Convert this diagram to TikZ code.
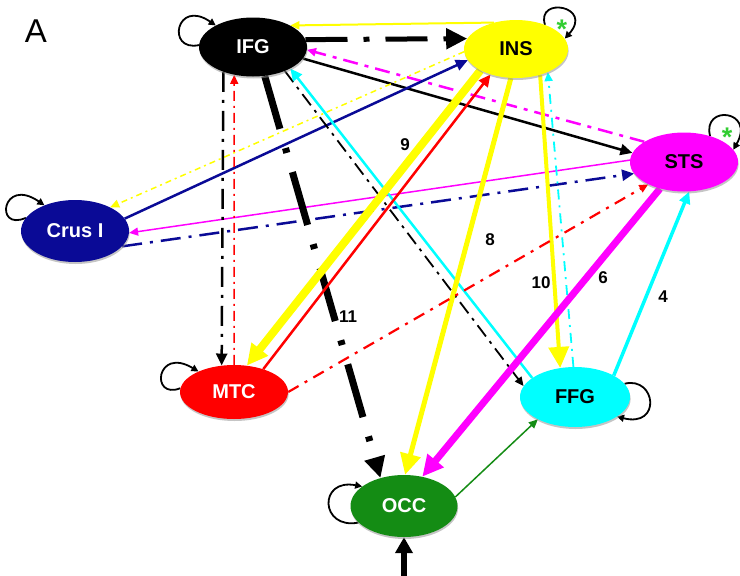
\documentclass[tikz,border=0pt]{standalone}
\usepackage{fontspec}
\setmainfont{Liberation Sans}
\usetikzlibrary{arrows.meta,shapes.geometric,shadows}
\definecolor{cyel}{RGB}{255,255,0}
\definecolor{cmag}{RGB}{255,0,255}
\definecolor{cnavy}{RGB}{10,10,150}
\definecolor{cred}{RGB}{255,0,0}
\definecolor{ccyan}{RGB}{0,255,255}
\definecolor{cgreen}{RGB}{20,140,20}
\definecolor{cstar}{RGB}{50,205,50}
\pgfdeclarelayer{background}
\pgfdeclarelayer{edges}
\pgfsetlayers{background,edges,main}
\tikzset{
  region/.style={ellipse, inner sep=0pt, font=\fontsize{20}{24}\selectfont\bfseries,
    drop shadow={shadow xshift=0.6pt, shadow yshift=-2pt, fill=black!45, opacity=0.5}},
  tipS/.style={-{Triangle[length=9pt,width=8pt]}},
  tipM/.style={-{Triangle[length=12pt,width=11pt]}},
  tipL/.style={-{Triangle[length=21pt,width=20pt]}},
  selfloop/.style={draw=black, line width=1.8pt, -{Triangle[length=7pt,width=7pt]}},
  numlabel/.style={font=\fontsize{17}{20}\selectfont\bfseries, inner sep=0pt},
  starlabel/.style={font=\fontsize{27}{29}\selectfont\bfseries, text=cstar, inner sep=0pt, anchor=base},
}
\begin{document}
\begin{tikzpicture}[x=1pt,y=-1pt]
\useasboundingbox (0,0) rectangle (740,576);
\begin{pgfonlayer}{background}
\fill[white] (0,0) rectangle (740,576);
\end{pgfonlayer}

\node[inner sep=0pt, font=\fontsize{33}{36}\selectfont] (lblA) at (36,31) {A};

\node[region, fill=black, text=white, minimum width=108pt, minimum height=59pt] (IFG) at (253,47) {IFG};
\node[region, fill=cyel, text=black, minimum width=104pt, minimum height=58pt] (INS) at (516,49) {INS};
\node[region, fill=cmag, text=black, minimum width=108pt, minimum height=59pt] (STS) at (684,162) {STS};
\node[region, fill=cnavy, text=white, minimum width=108pt, minimum height=62pt] (CRU) at (75,231) {Crus I};
\node[region, fill=cred, text=white, minimum width=108pt, minimum height=54pt] (MTC) at (234,392) {MTC};
\node[region, fill=ccyan, text=black, minimum width=110pt, minimum height=60pt] (FFG) at (575,397) {FFG};
\node[region, fill=cgreen, text=white, minimum width=107pt, minimum height=62pt] (OCC) at (404,506) {OCC};
\coordinate (input) at (404,580);

\begin{pgfonlayer}{edges}
% self loops
\draw[selfloop] (IFG.178) .. controls (166,52) and (176,-2) .. (IFG.150);
\draw[selfloop] (INS.40) .. controls (536,-4) and (594,6) .. (INS.12);
\draw[selfloop] (STS.45) .. controls (702,104) and (756,110) .. (STS.14);
\draw[selfloop] (CRU.165) .. controls (-6,232) and (2,176) .. (CRU.140);
\draw[selfloop] (MTC.176) .. controls (150,400) and (156,346) .. (MTC.150);
\draw[selfloop] (FFG.15) .. controls (656,376) and (662,428) .. (FFG.-25);
\draw[selfloop] (OCC.200) .. controls (320,530) and (318,478) .. (OCC.155);

% IFG <-> INS
\draw[cyel, line width=2pt, tipS] (INS.130) -- (IFG.30);
\draw[black, line width=5pt, tipL, dash pattern=on 42pt off 16pt on 6pt off 16pt] (IFG.8) -- (INS.168);
% IFG <-> STS
\draw[cmag, line width=2.5pt, tipS, dash pattern=on 15pt off 7pt on 4pt off 7pt] (STS.153) -- (IFG.-3);
\draw[black, line width=2.5pt, tipM] (IFG.-13) -- (STS.170);
% INS <-> Crus I
\draw[cyel, line width=1.5pt, tipS, dash pattern=on 6pt off 4pt on 2pt off 4pt] (INS.183) -- (CRU.34);
\draw[cnavy, line width=2.5pt, tipM] (CRU.14) -- (INS.193);
% STS <-> Crus I
\draw[cmag, line width=1.5pt, tipS] (STS.178) -- (CRU.-2);
\draw[cnavy, line width=2.5pt, tipM, dash pattern=on 20pt off 8pt on 3pt off 8pt] (CRU.-18) -- (STS.-167);
% IFG <-> MTC
\draw[black, line width=2.5pt, tipM, dash pattern=on 20pt off 8pt on 3pt off 8pt] (IFG.-140) -- (MTC.115);
\draw[cred, line width=1.5pt, tipS, dash pattern=on 10pt off 5pt on 2pt off 5pt] (MTC.90) -- (IFG.-124);
% IFG -> OCC (11)
\draw[black, line width=7pt, tipL, dash pattern=on 55pt off 20pt on 5pt off 20pt] (IFG.-68) -- (OCC.130);
% IFG <-> FFG
\draw[black, line width=1.8pt, tipS, dash pattern=on 14pt off 6pt on 3pt off 6pt] (IFG.-37) -- (FFG.168);
\draw[ccyan, line width=2.5pt, tipM] (FFG.156) -- (IFG.-30);
% INS <-> MTC (9)
\draw[cyel, line width=8pt, tipL] (INS.-149) -- (MTC.64);
\draw[cred, line width=2.5pt, tipM] (MTC.38) -- (INS.-135);
% INS -> OCC (8)
\draw[cyel, line width=5pt, tipL] (INS.-100) -- (OCC.88);
% INS <-> FFG (10)
\draw[cyel, line width=4pt, tipL] (INS.-47) -- (FFG.117);
\draw[ccyan, line width=1.8pt, tipS, dash pattern=on 10pt off 6pt on 2pt off 6pt] (FFG.93) -- (INS.-36);
% STS -> OCC (6)
\draw[cmag, line width=7pt, tipL] (STS.-132) -- (OCC.58);
% FFG -> STS (4)
\draw[ccyan, line width=3.5pt, tipM] (FFG.29) -- (STS.-80);
% MTC -> STS
\draw[cred, line width=2.2pt, tipS, dash pattern=on 12pt off 7pt on 3pt off 7pt] (MTC.0) -- (STS.-148);
% OCC -> FFG
\draw[cgreen, line width=1.5pt, tipS] (OCC.10) -- (FFG.-149);
% input
\draw[black, line width=6pt, -{Triangle[length=16pt,width=17pt]}] (input) -- (OCC.south);
\end{pgfonlayer}

% stars
\node[starlabel] (starINS) at (562,38) {*};
\node[starlabel] (starSTS) at (727,146) {*};

% weight labels
\node[numlabel] (w9) at (405,145) {9};
\node[numlabel] (w8) at (490,240) {8};
\node[numlabel] (w10) at (541,283) {10};
\node[numlabel] (w6) at (603,278) {6};
\node[numlabel] (w4) at (663,297) {4};
\node[numlabel] (w11) at (348,317) {11};
\end{tikzpicture}
\end{document}
